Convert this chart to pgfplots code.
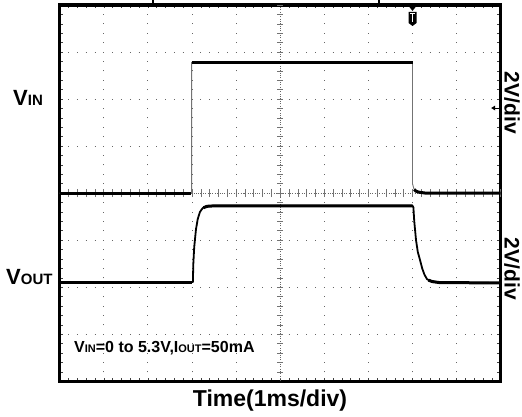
\documentclass[border=0pt]{standalone}
\usepackage{fontspec}
\setmainfont{Liberation Sans}
\usepackage{pgfplots}
\pgfplotsset{compat=1.18}
\begin{document}
\begin{tikzpicture}
\begin{axis}[
  at={(0,0)}, anchor=south west,
  scale only axis, width=441pt, height=376.3pt,
  xmin=0, xmax=10, ymin=0, ymax=8,
  xtick={0,...,10}, ytick={0,...,8},
  minor x tick num=4, minor y tick num=4,
  xticklabels={}, yticklabels={},
  tick align=inside,
  major tick length=3.5pt, minor tick length=3.5pt,
  every tick/.style={black!75, line width=0.6pt},
  grid=major,
  x grid style={black!60, line width=1pt, dash pattern=on 0.9pt off 8.508pt, dash phase=0.45pt},
  y grid style={black!60, line width=1pt, dash pattern=on 0.9pt off 7.92pt, dash phase=0.45pt},
  axis line style={line width=3.5pt, black},
  clip=false,
]
% centre lines with dense dots and small ticks
\draw[black!60, line width=0.8pt, dash pattern=on 0.8pt off 1.55pt] (axis cs:5,0) -- (axis cs:5,8);
\draw[black!60, line width=0.8pt, dash pattern=on 0.8pt off 1.55pt] (axis cs:0,4) -- (axis cs:10,4);
\pgfplotsinvokeforeach{0.2,0.4,...,9.9}{
  \draw[black!55, line width=0.6pt] (axis cs:#1,3.915) -- (axis cs:#1,4.085);
}
\pgfplotsinvokeforeach{0.2,0.4,...,7.9}{
  \draw[black!55, line width=0.6pt] (axis cs:4.93,#1) -- (axis cs:5.07,#1);
}

% VIN trace
\addplot[black!55, line width=0.9pt, line join=round] coordinates {
 (0,4.0) (2.99,4.0) (2.99,6.78) (8.0,6.78) (8.0,4.2) (8.03,4.1) (8.07,4.05) (8.15,4.02) (8.3,4.0) (10,4.0)};
\addplot[black, line width=3pt] coordinates {(0,4.0) (2.98,4.0)};
\addplot[black, line width=3pt] coordinates {(3.0,6.78) (8.0,6.78)};
\addplot[black, line width=3pt, line join=round] coordinates {(8.04,4.08) (8.08,4.04) (8.15,4.02) (8.3,4.0) (10,4.0)};

% VOUT trace
\addplot[black, line width=1.8pt, line join=round] coordinates {
 (0,2.11) (3.02,2.11) (3.03,2.5) (3.05,2.85) (3.09,3.23) (3.13,3.45) (3.18,3.6) (3.24,3.68) (3.32,3.72) (3.5,3.73)
 (8.0,3.73) (8.02,3.7) (8.04,3.4) (8.08,3.0) (8.12,2.75) (8.17,2.58) (8.22,2.4) (8.27,2.27) (8.33,2.17) (8.42,2.13) (8.6,2.1) (10,2.09)};
\addplot[black, line width=3pt] coordinates {(0,2.11) (3.01,2.11)};
\addplot[black, line width=3pt, line join=round] coordinates {(3.26,3.69) (3.34,3.72) (3.5,3.73) (8.0,3.73)};
\addplot[black, line width=3pt, line join=round] coordinates {(8.36,2.15) (8.45,2.12) (8.6,2.1) (10,2.09)};

% trigger marker at top
\fill[black] (axis cs:8,8) ++(-3.5pt,-1.5pt) -- ++(7pt,0) -- ++(-3.5pt,-4.5pt) -- cycle;
\fill[black] (axis cs:8,8) ++(-4pt,-7pt) -- ++(8pt,0) -- ++(0,-11pt) -- ++(-4pt,-3pt) -- ++(-4pt,3pt) -- cycle;
\fill[white] (axis cs:8,8) ++(-2.5pt,-9pt) rectangle ++(5pt,1.4pt);
\fill[white] (axis cs:8,8) ++(-0.7pt,-9pt) rectangle ++(1.4pt,-8.5pt);
% small marks above frame
\draw[black, line width=1.5pt] (axis cs:2.12,8) ++(0,1.7pt) -- ++(0,3.3pt);
\draw[black, line width=1.5pt] (axis cs:7.24,8) ++(0,1.7pt) -- ++(0,3.3pt);
% trigger level arrow on right
\draw[black, line width=1pt] (axis cs:10,5.81) ++(-2pt,0) -- ++(-5pt,0);
\fill[black] (axis cs:10,5.81) ++(-9.5pt,0) -- ++(4pt,2.5pt) -- ++(0,-5pt) -- cycle;

% labels
\node[anchor=base west, inner sep=0pt, font=\bfseries] at (axis cs:-1.059,5.872)
  {{\fontsize{22}{22}\selectfont V}{\fontsize{15}{15}\selectfont IN}};
\node[anchor=base west, inner sep=0pt, font=\bfseries] at (axis cs:-1.218,2.05)
  {{\fontsize{22}{22}\selectfont V}{\fontsize{15}{15}\selectfont OUT}};
\node[anchor=base west, inner sep=0pt, font=\bfseries] at (axis cs:0.324,0.602)
  {{\fontsize{16}{16}\selectfont V}{\fontsize{11}{11}\selectfont IN}{\fontsize{16}{16}\selectfont =0 to 5.3V,I}{\fontsize{11}{11}\selectfont OUT}{\fontsize{16}{16}\selectfont =50mA}};
\node[anchor=base, inner sep=0pt, font=\bfseries\fontsize{23}{23}\selectfont] at (axis cs:4.769,-0.544) {Time(1ms/div)};
\node[rotate=-90, inner sep=0pt, font=\bfseries\fontsize{21}{21}\selectfont] at (axis cs:10.256,5.92) {2V/div};
\node[rotate=-90, inner sep=0pt, font=\bfseries\fontsize{21}{21}\selectfont] at (axis cs:10.256,2.39) {2V/div};
\end{axis}
\pgfresetboundingbox
\path[use as bounding box] (-59.7pt,-35.7pt) rectangle (462.3pt,381.3pt);
\end{tikzpicture}
\end{document}
